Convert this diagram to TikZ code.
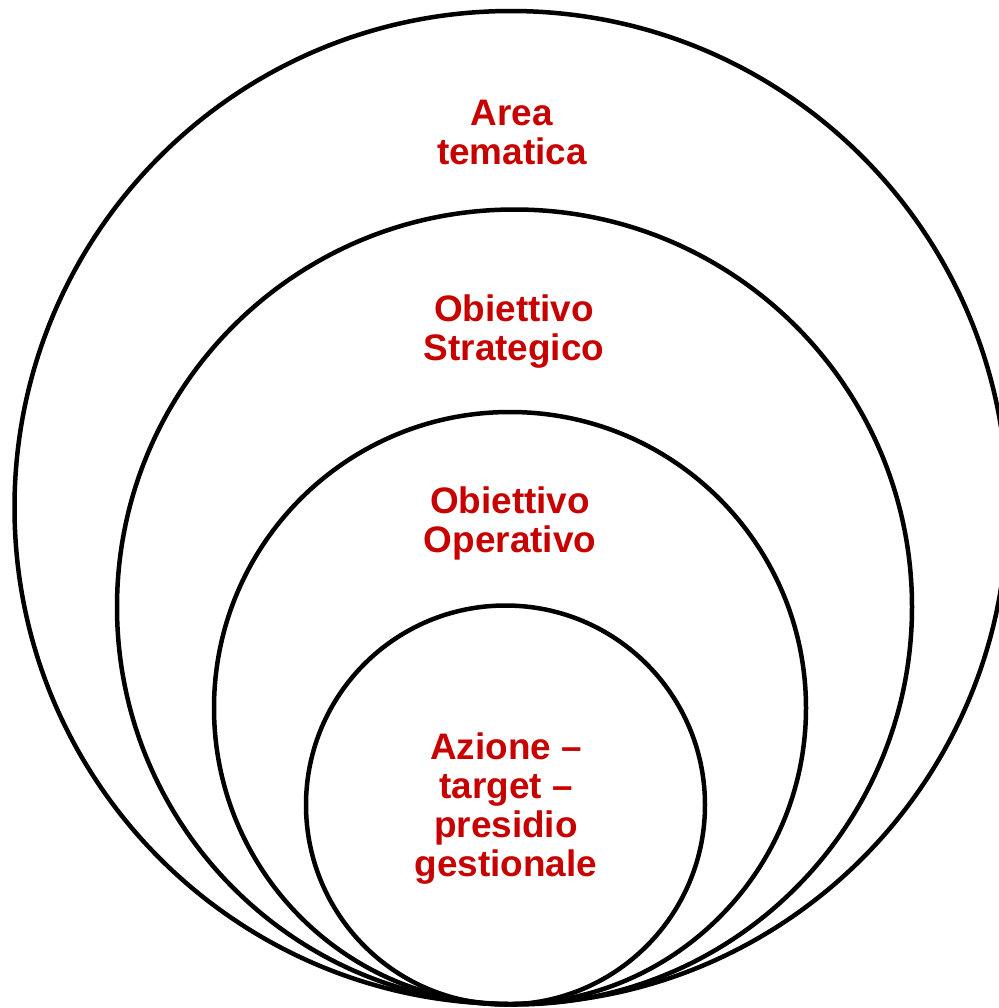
\documentclass[tikz,border=0pt]{standalone}
\usepackage{fontspec}
\setmainfont{Liberation Sans}
\usepackage{tikz}
\usetikzlibrary{positioning}
\definecolor{titlered}{rgb}{0.78, 0.0, 0.0}

\begin{document}
\begin{tikzpicture}[x=0.02cm,y=0.02cm]
	
	\useasboundingbox (0,0) rectangle (998,-1008);
	
	\coordinate (C1) at (511,-507.5);
	\coordinate (C2) at (514.5,-607);
	\coordinate (C3) at (510,-708);
	\coordinate (C4) at (505.5,-805);
	
	\tikzset{ring/.style={line width=0.09cm,black},
		label/.style={anchor=north,inner sep=0pt,align=center,titlered,
			font=\fontsize{21}{22.2}\selectfont\bfseries}}
	
	\draw [ring] (C1) circle (496.5);
	\draw [ring] (C2) circle (397.5);
	\draw [ring] (C3) circle (296);
	\draw [ring] (C4) circle (199.5);
	
	\node at (512,-100) [label] (AreaText) {Area\\tematica};
	\node at (514,-294) [label] (StratText) {Obiettivo\\Strategico};
	\node at (510,-486) [label] (OperText) {Obiettivo\\Operativo};
	\node at (506,-732) [label] (AzioneText) {Azione --\\target --\\presidio\\gestionale};
\end{tikzpicture}
\end{document}
